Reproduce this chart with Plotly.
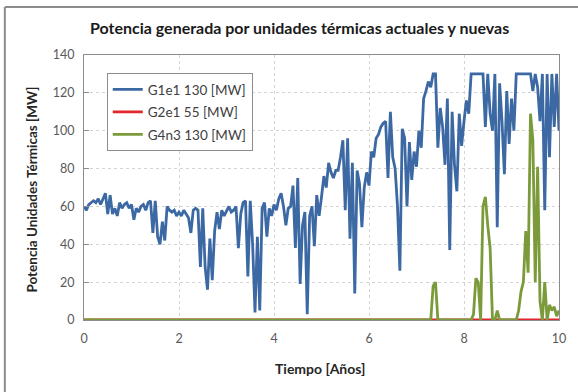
import plotly.graph_objects as go

# time grid: years, step 0.05 (201 samples)
n_steps = 200
tiempo = [round(i * 0.05, 2) for i in range(n_steps + 1)]

g1e1 = [60, 58, 61, 62, 63, 62, 64, 61, 64, 67,
        56, 66, 56, 59, 55, 62, 59, 61, 62, 59,
        61, 53, 59, 57, 60, 61, 58, 62, 63, 46,
        63, 44, 40, 52, 42, 60, 58, 57, 58, 55,
        57, 55, 58, 56, 54, 46, 58, 59, 58, 28,
        59, 28, 16, 43, 21, 47, 57, 48, 58, 55,
        58, 60, 57, 58, 60, 38, 56, 62, 63, 23,
        63, 40, 4, 44, 5, 59, 62, 44, 59, 55,
        61, 58, 64, 67, 60, 50, 59, 60, 71, 38,
        75, 19, 50, 57, 3, 55, 60, 39, 66, 55,
        65, 76, 70, 83, 78, 75, 79, 79, 86, 95,
        58, 96, 43, 83, 14, 79, 72, 49, 70, 78,
        71, 89, 86, 96, 98, 102, 104, 105, 75, 110,
        86, 80, 60, 26, 101, 96, 60, 94, 74, 89,
        81, 100, 91, 117, 121, 126, 123, 130, 130, 91,
        112, 102, 82, 117, 37, 110, 82, 68, 109, 92,
        105, 116, 109, 130, 130, 130, 130, 130, 130, 102,
        130, 109, 100, 130, 49, 125, 105, 77, 121, 93,
        117, 100, 130, 130, 130, 130, 130, 130, 130, 121,
        130, 123, 105, 130, 58, 130, 86, 130, 102, 130,
        100]

g2e1 = [0] * (n_steps + 1)

g4n3 = [0] * 146 + [0, 18, 20, 0, 0,
                    0, 0, 0, 0, 0, 0, 0, 0, 0, 0,
                    0, 0, 0, 3, 22, 20, 0, 60, 65, 50,
                    38, 0, 0, 5, 0, 0, 0, 0, 0, 0,
                    0, 0, 5, 15, 20, 47, 25, 109, 95, 20,
                    81, 10, 0, 20, 0, 8, 5, 7, 2, 5,
                    0]

names = ["G1e1 130 [MW]", "G2e1 55 [MW]", "G4n3 130 [MW]"]
colors = ["#3C69A3", "#E2262B", "#7B9B3A"]

title_text = "Potencia generada por unidades térmicas actuales y nuevas"
x_title = "Tiempo [Años]"
y_title = "Potencia Unidades Térmicas [MW]"

FONT = "Lato"
W, H = 578, 392
L, R, T, B = 84, 14, 55, 72
PW, PH = W - L - R, H - T - B


def px_x(x):
    return (x - L) / PW


def px_y(y):
    return ((H - B) - y) / PH


fig = go.Figure()
for k, (name, ys, c) in enumerate(zip(names, [g1e1, g2e1, g4n3], colors)):
    fig.add_trace(go.Scatter(x=tiempo, y=ys, mode="lines", name=name,
                             legendgroup="g%d" % k,
                             line=dict(color=c, width=2.8)))

axis_common = dict(showline=True, mirror=True, linecolor="#8c8c8c", linewidth=1,
                   showgrid=True, gridcolor="#d3d3d3", griddash="dot", gridwidth=1,
                   zeroline=False,
                   tickfont=dict(family=FONT, size=12.5, color="#595959"))

fig.update_layout(
    width=W, height=H,
    margin=dict(l=L, r=R, t=T, b=B),
    paper_bgcolor="white", plot_bgcolor="white",
    showlegend=True,
    legend=dict(x=px_x(107), y=px_y(73), xanchor="left", yanchor="top",
                bgcolor="white", bordercolor="#8c8c8c", borderwidth=1,
                font=dict(family=FONT, size=13.5, color="#404040"),
                tracegroupgap=2, itemwidth=30, traceorder="grouped"),
    xaxis=dict(range=[0, 10], dtick=2, ticks="", ticklabelstandoff=7, **axis_common),
    yaxis=dict(range=[0, 140], dtick=20, ticks="inside", ticklen=5, tickcolor="#8c8c8c",
               ticklabelstandoff=6, **axis_common),
    annotations=[
        dict(text="<b>" + title_text + "</b>", xref="paper", yref="paper",
             x=px_x(302), y=px_y(27),
             showarrow=False, font=dict(family=FONT, size=16, color="#1a1a1a"),
             xanchor="center", yanchor="middle"),
        dict(text="<b>" + x_title + "</b>", xref="paper", yref="paper",
             x=px_x(322), y=px_y(368),
             showarrow=False, font=dict(family=FONT, size=14, color="#262626"),
             xanchor="center", yanchor="middle"),
        dict(text="<b>" + y_title + "</b>", xref="paper", yref="paper",
             x=px_x(31), y=px_y(190),
             textangle=-90,
             showarrow=False, font=dict(family=FONT, size=13.5, color="#262626"),
             xanchor="center", yanchor="middle"),
    ],
    shapes=[
        dict(type="line", xref="paper", yref="paper",
             x0=px_x(4), x1=px_x(4), y0=px_y(7), y1=px_y(400),
             line=dict(color="#8c8c8c", width=2)),
        dict(type="line", xref="paper", yref="paper",
             x0=px_x(4), x1=px_x(590), y0=px_y(7), y1=px_y(7),
             line=dict(color="#8c8c8c", width=2)),
    ],
)

fig.write_html("out.html", config={"displayModeBar": False},
               post_script="document.body.style.margin='0';document.body.style.overflow='hidden';")
